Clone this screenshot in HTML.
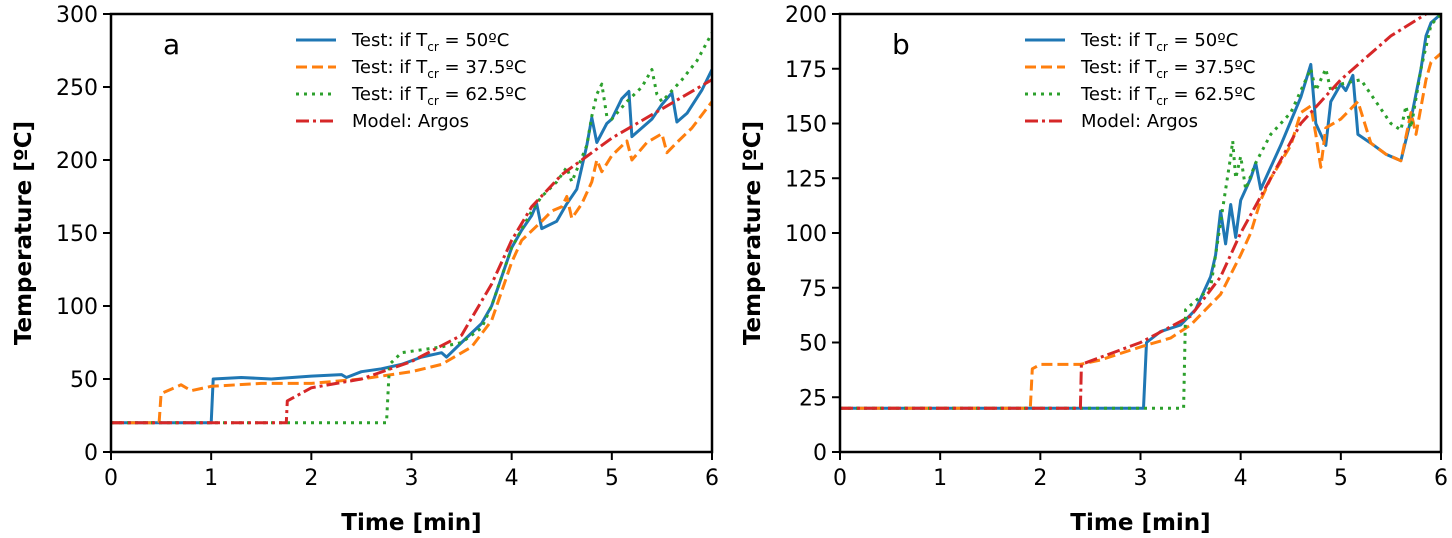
<!DOCTYPE html>
<html><head><meta charset="utf-8">
<style>
html,body{margin:0;padding:0;background:#fff;}
svg{display:block;font-family:"DejaVu Sans","Liberation Sans",sans-serif;}
</style></head>
<body>
<svg id="chart" width="1452" height="538" viewBox="0 0 1452 538" xmlns="http://www.w3.org/2000/svg"></svg>
<script>
// ---- Panel a data ----
const aBlueT = [0,1,1.02,1.3,1.6,2.0,2.3,2.35,2.5,2.7,2.9,3.1,3.3,3.35,3.5,3.7,3.8,3.9,4.0,4.1,4.2,4.25,4.3,4.45,4.55,4.65,4.75,4.8,4.85,4.95,5.0,5.1,5.17,5.2,5.3,5.4,5.5,5.6,5.65,5.75,5.9,6.0];
const aBlueV = [20,20,50,51,50,52,53,51,55,57,60,65,68,65,75,88,100,120,140,152,162,170,153,158,170,180,210,229,212,225,228,242,247,216,222,228,238,246,226,232,248,262];
const aOrangeT = [0,0.48,0.5,0.6,0.7,0.8,1.0,1.5,2.0,2.5,3.0,3.3,3.6,3.8,4.0,4.1,4.3,4.4,4.5,4.55,4.6,4.7,4.8,4.85,4.9,5.0,5.15,5.2,5.35,5.5,5.55,5.65,5.8,6.0];
const aOrangeV = [20,20,40,43,46,42,45,47,47,50,55,60,72,90,130,145,158,165,168,175,160,170,185,200,192,203,213,200,212,218,205,212,222,240];
const aGreenT = [0,1.75,2.75,2.78,2.9,3.1,3.3,3.5,3.7,3.8,4.0,4.2,4.3,4.45,4.55,4.6,4.75,4.8,4.85,4.9,4.95,5.0,5.15,5.3,5.4,5.45,5.5,5.7,5.85,6.0];
const aGreenV = [20,20,20,60,68,70,72,75,85,100,140,165,175,185,195,185,210,230,245,252,230,228,240,250,262,245,240,255,268,287];
const aRedT = [0,1.75,1.76,2.0,2.5,3.0,3.5,3.8,4.0,4.2,4.5,5.0,5.5,6.0];
const aRedV = [20,20,35,44,50,62,80,115,145,168,190,215,235,255];
// ---- Panel b data ----
const bBlueT = [0,3.03,3.06,3.2,3.4,3.55,3.7,3.75,3.8,3.85,3.9,3.95,4.0,4.1,4.15,4.2,4.3,4.4,4.6,4.7,4.75,4.85,4.9,5.0,5.05,5.12,5.17,5.3,5.45,5.6,5.7,5.8,5.85,5.9,6.0];
const bBlueV = [20,20,50,55,58,65,80,90,110,95,113,98,115,125,132,120,130,140,162,177,150,140,160,168,165,172,145,141,136,133,152,175,190,196,200];
const bOrangeT = [0,1.9,1.92,2.0,2.4,2.6,3.0,3.3,3.5,3.8,4.0,4.1,4.2,4.3,4.5,4.6,4.7,4.75,4.8,4.85,5.0,5.17,5.3,5.45,5.6,5.7,5.75,5.85,5.9,6.0];
const bOrangeV = [20,20,38,40,40,42,48,52,58,72,90,100,115,125,140,155,158,145,130,148,152,160,141,136,133,155,145,170,178,182];
const bGreenT = [0,3.43,3.45,3.7,3.8,3.9,3.92,3.95,4.0,4.05,4.15,4.3,4.5,4.7,4.75,4.85,4.9,5.0,5.2,5.35,5.5,5.6,5.65,5.7,5.8,5.9,6.0];
const bGreenV = [20,20,65,75,105,135,142,125,135,120,132,145,155,175,165,175,165,168,170,160,150,147,158,148,175,195,200];
const bRedT = [0,2.4,2.41,3.0,3.5,3.8,4.0,4.3,4.6,5.0,5.5,5.85,6.0];
const bRedV = [20,20,40,50,62,80,100,125,150,170,190,200,205];
const xTicks = [0,1,2,3,4,5,6];
const aYTicks = [0,50,100,150,200,250,300];
const bYTicks = [0,25,50,75,100,125,150,175,200];
const legendLabels = [["Test: if T","cr"," = 50ºC"],["Test: if T","cr"," = 37.5ºC"],["Test: if T","cr"," = 62.5ºC"],["Model: Argos","",""]];

const NS="http://www.w3.org/2000/svg";
const svg=document.getElementById('chart');
function mk(tag,attrs,parent){const e=document.createElementNS(NS,tag);for(const k in attrs)e.setAttribute(k,attrs[k]);(parent||svg).appendChild(e);return e;}

const styles=[
 {c:'#1f77b4',d:'',w:3},
 {c:'#ff7f0e',d:'11,5',w:3},
 {c:'#2ca02c',d:'3,5',w:3},
 {c:'#d62728',d:'13,4,3,4',w:3}
];
const defs=mk('defs',{});

function panel(id,x0,x1,y0,y1,ymax,yTicks,series,letter){
  const g=mk('g',{});
  
  
  const cp=mk('clipPath',{id:'clip-'+id},defs);
  mk('rect',{x:x0,y:y1,width:x1-x0,height:y0-y1},cp);
  const sx=v=>x0+(x1-x0)*v/6;
  const sy=v=>y0-(y0-y1)*v/ymax;
  const sg=mk('g',{'clip-path':'url(#clip-'+id+')'},g);
  series.forEach((s,i)=>{
    const pts=s[0].map((t,j)=>sx(t).toFixed(1)+','+sy(s[1][j]).toFixed(1)).join(' ');
    const p=mk('polyline',{points:pts,fill:'none',stroke:styles[i].c,'stroke-width':styles[i].w,'stroke-dasharray':styles[i].d,'stroke-linejoin':'round'},sg);
    
    
  });
  const frame=mk('rect',{x:x0,y:y1,width:x1-x0,height:y0-y1,fill:'none',stroke:'#000','stroke-width':2.5},g);
  
  
  xTicks.forEach(t=>{
    mk('line',{x1:sx(t),x2:sx(t),y1:y0,y2:y0+8,stroke:'#000','stroke-width':2},g);
    const tx=mk('text',{x:sx(t),y:y0+33,'font-size':22,'text-anchor':'middle'},g);
    tx.textContent=t;
    
    
  });
  yTicks.forEach(t=>{
    mk('line',{x1:x0-8,x2:x0,y1:sy(t),y2:sy(t),stroke:'#000','stroke-width':2},g);
    const tx=mk('text',{x:x0-13,y:sy(t)+8,'font-size':22,'text-anchor':'end'},g);
    tx.textContent=t;
    
    
  });
  const xl=mk('text',{x:(x0+x1)/2,y:y0+78,'font-size':23,'font-weight':'bold','text-anchor':'middle'},g);
  xl.textContent='Time [min]';
  
  
  const yl=mk('text',{x:0,y:0,'font-size':23,'font-weight':'bold','text-anchor':'middle',transform:`translate(${x0-80},${(y0+y1)/2}) rotate(-90)`},g);
  yl.textContent='Temperature [ºC]';
  
  
  const pl=mk('text',{x:x0+52,y:y1+40,'font-size':28},g);
  pl.textContent=letter;
  
  
  const lx=x0+185;
  legendLabels.forEach((lab,i)=>{
    const ly=y1+26+i*27;
    const lg=mk('g',{},g);
    
    
    mk('line',{x1:lx,x2:lx+40,y1:ly,y2:ly,stroke:styles[i].c,'stroke-width':styles[i].w,'stroke-dasharray':styles[i].d},lg);
    const tx=mk('text',{x:lx+56,y:ly+6,'font-size':18},lg);
    const s1=mk('tspan',{},tx); s1.textContent=lab[0];
    if(lab[1]){const s2=mk('tspan',{'font-size':12,dy:5},tx); s2.textContent=lab[1];
      const s3=mk('tspan',{dy:-5},tx); s3.textContent=lab[2];}
  });
}
panel('a',111,712,452,14,300,aYTicks,[[aBlueT,aBlueV],[aOrangeT,aOrangeV],[aGreenT,aGreenV],[aRedT,aRedV]],'a');
panel('b',840,1441,452,14,200,bYTicks,[[bBlueT,bBlueV],[bOrangeT,bOrangeV],[bGreenT,bGreenV],[bRedT,bRedV]],'b');
</script>
</body></html>
